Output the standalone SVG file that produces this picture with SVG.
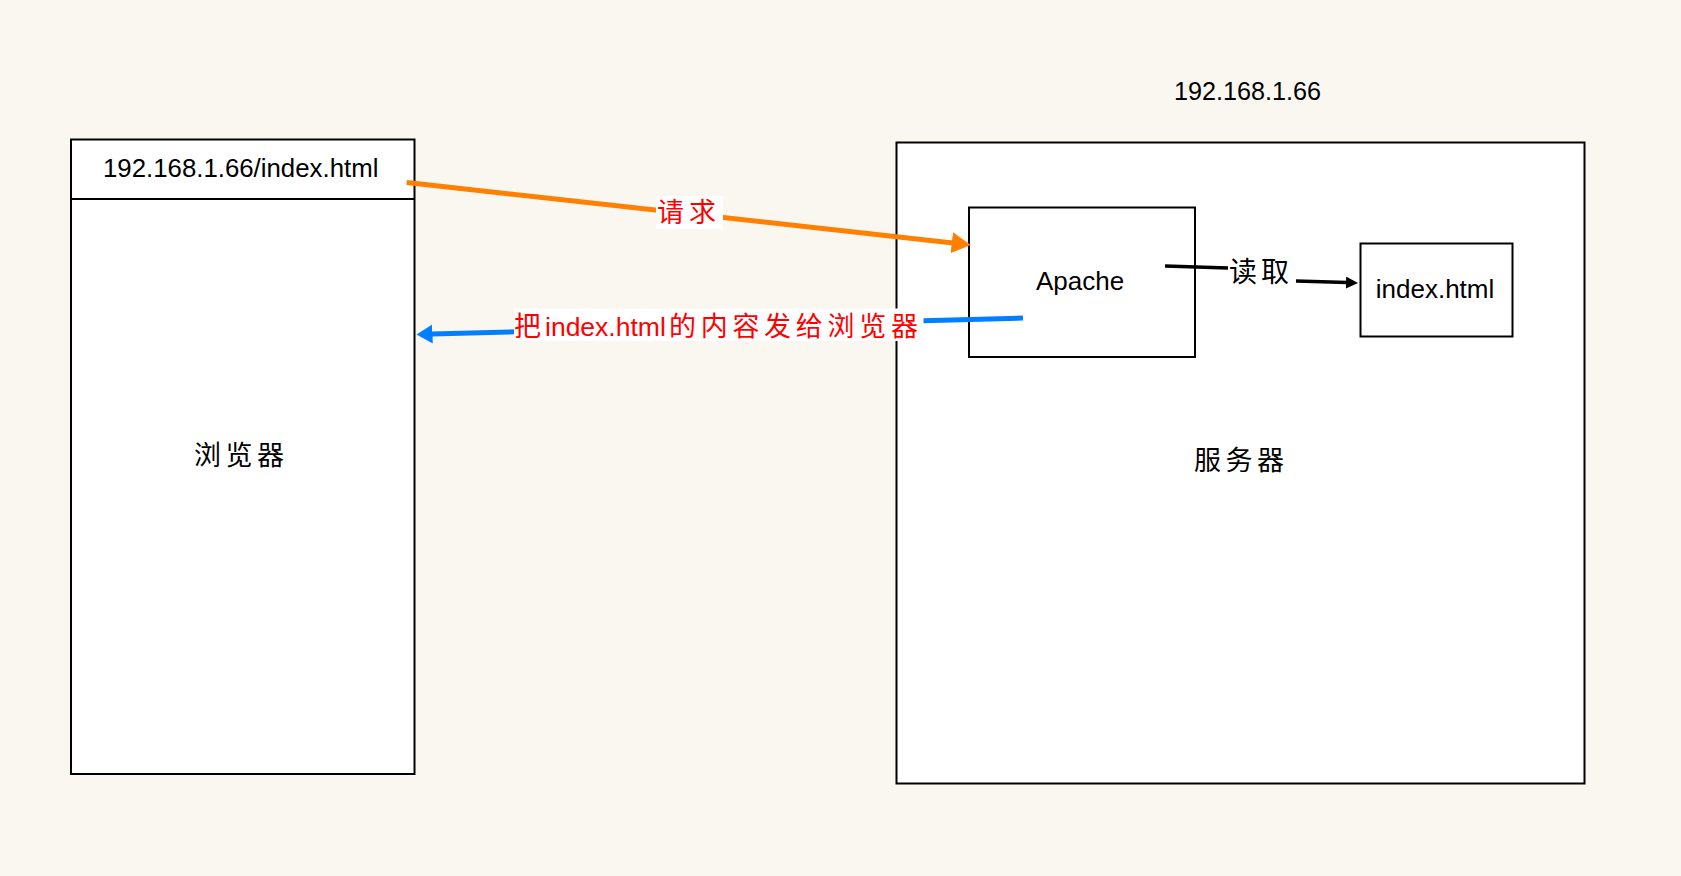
<svg xmlns="http://www.w3.org/2000/svg" width="1681" height="876" viewBox="0 0 1681 876">
<style>
.bg{fill:#FAF7F0}
.box{fill:#ffffff;stroke:#000000;stroke-width:2}
.lat{font-family:"Liberation Sans",Arial,sans-serif;font-size:26px;fill:#000000}
.cjk{font-family:"Noto Sans CJK SC",sans-serif;font-size:27px;fill:#000000;letter-spacing:4.5px}
.mix{font-family:"Liberation Sans","Noto Sans CJK SC",sans-serif;font-size:26.5px;fill:#ff0000}
.red{fill:#ff0000}
.lblbg{fill:#ffffff}
.orange{fill:none;stroke:#FF8000;stroke-width:5}
.blue{fill:none;stroke:#0080FF;stroke-width:5}
.black{fill:none;stroke:#000000;stroke-width:3.5}
</style>
<defs>
<marker id="ahOrange" markerUnits="userSpaceOnUse" markerWidth="20" markerHeight="22" refX="1" refY="10.5" orient="auto" viewBox="0 0 20 22">
<path d="M0,0 L19,10.5 L0,21 Z" fill="#FF8000"/>
</marker>
<marker id="ahBlue" markerUnits="userSpaceOnUse" markerWidth="17" markerHeight="20" refX="1" refY="9.5" orient="auto" viewBox="0 0 17 20">
<path d="M0,0 L16,9.5 L0,19 Z" fill="#0080FF"/>
</marker>
<marker id="ahBlack" markerUnits="userSpaceOnUse" markerWidth="13" markerHeight="13" refX="1" refY="6" orient="auto" viewBox="0 0 13 13">
<path d="M0,0 L12,6 L0,12 Z" fill="#000000"/>
</marker>
</defs>
<rect class="bg" x="0" y="0" width="1681" height="876"/>

<g id="browser">
<rect class="box" x="71" y="139.5" width="343.5" height="634.5"/>
<line x1="71" y1="199" x2="414.5" y2="199" stroke="#000000" stroke-width="2"/>
<text class="lat" x="103" y="176.7" style="font-size:25.8px">192.168.1.66/index.html</text>
<text class="cjk" x="194" y="465">浏览器</text>
</g>

<g id="server">
<text class="lat" x="1174" y="100" style="font-size:25.2px">192.168.1.66</text>
<rect class="box" x="896.5" y="142.5" width="688" height="641"/>
<text class="cjk" x="1194" y="470">服务器</text>
</g>

<g id="apache">
<rect class="box" x="969" y="207.5" width="226" height="149.5"/>
<text class="lat" x="1036" y="290">Apache</text>
</g>

<g id="indexfile">
<rect class="box" x="1360.5" y="243.5" width="152" height="93"/>
<text class="lat" x="1435" y="297.5" text-anchor="middle">index.html</text>
</g>

<g id="connectors">
<path class="orange" d="M406.7,182.5 L952.8,242.9" marker-end="url(#ahOrange)"/>
<rect class="lblbg" x="656" y="196" width="67" height="33"/>
<text class="cjk red" x="657" y="221.5" style="letter-spacing:5px">请求</text>

<path class="blue" d="M1023,318 L431.5,334.1" marker-end="url(#ahBlue)"/>
<rect class="lblbg" x="514" y="308.5" width="409.5" height="32.5"/>
<text class="mix" y="335.5"><tspan x="514" style="font-family:'Noto Sans CJK SC',sans-serif;font-size:27px">把</tspan><tspan x="545">index.html</tspan><tspan x="669" style="font-family:'Noto Sans CJK SC',sans-serif;font-size:27px;letter-spacing:4.7px">的内容发给浏览器</tspan></text>

<path class="black" d="M1165,266 L1228,268 M1296,281 L1347,282.6" marker-end="url(#ahBlack)"/>
<text class="cjk" x="1229" y="282" style="font-size:28px;letter-spacing:4px">读取</text>
</g>
</svg>
